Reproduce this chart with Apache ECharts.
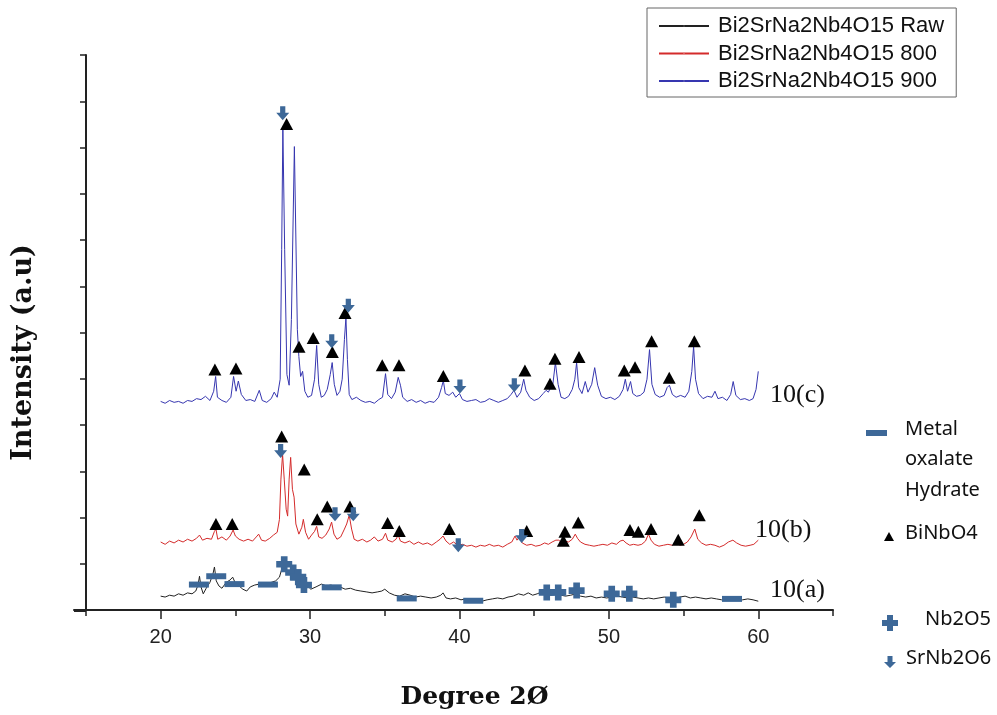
<!DOCTYPE html>
<html>
<head>
<meta charset="utf-8">
<script src="https://cdn.jsdelivr.net/npm/echarts@6/dist/echarts.min.js"></script>
<style>html,body{margin:0;padding:0;background:#fff}#c{width:997px;height:715px}</style>
</head>
<body>
<div id="c"></div>
<script>
// ---- tick labels ----
const majorTicks = [20, 30, 40, 50, 60];
const minorTicks = [15, 25, 35, 45, 55, 65];
const seriesNames = ['Bi2SrNa2Nb4O15 Raw', 'Bi2SrNa2Nb4O15 800', 'Bi2SrNa2Nb4O15 900'];
const curveLabels = ['10(a)', '10(b)', '10(c)'];

// ---- pattern 10(a): raw ----
const rawData = [
[20.0,30],[20.3,28],[20.6,32],[20.9,30],[21.2,35],[21.5,32],[21.8,37],[22.1,35],[22.35,41],[22.5,54],[22.6,73],[22.7,50],[22.85,35],
[23.05,47],[23.3,60],[23.5,78],[23.6,93],[23.72,63],[23.9,52],[24.1,47],[24.4,60],[24.65,65],[24.82,71],[25.0,58],[25.25,52],[25.5,45],
[25.76,41],[26.0,50],[26.3,54],[26.6,56],[26.9,54],[27.15,58],[27.43,60],[27.7,63],[27.95,71],[28.1,88],[28.25,101],[28.4,84],[28.55,76],
[28.72,82],[28.9,71],[29.15,67],[29.45,60],[29.77,54],[30.05,45],[30.4,50],[30.77,56],[31.1,52],[31.4,54],[31.7,50],[32.0,50],[32.35,45],
[32.7,47],[33.05,43],[33.4,41],[33.8,39],[34.15,37],[34.5,39],[34.8,41],[35.0,45],[35.3,37],[35.65,32],[36.0,30],[36.35,35],[36.7,32],
[37.05,28],[37.4,30],[37.75,28],[38.1,26],[38.45,28],[38.75,32],[38.9,37],[39.1,26],[39.4,24],[39.75,26],[40.1,22],[40.45,24],[40.8,19],
[41.15,22],[41.5,19],[41.85,22],[42.2,24],[42.55,26],[42.9,24],[43.25,28],[43.6,30],[43.95,35],[44.3,32],[44.6,37],[44.9,32],[45.2,35],
[45.5,39],[45.8,35],[46.1,32],[46.45,35],[46.8,32],[47.1,30],[47.45,32],[47.8,35],[48.1,30],[48.45,28],[48.8,30],[49.15,26],[49.5,28],
[49.85,26],[50.2,28],[50.55,30],[50.9,28],[51.25,26],[51.6,28],[51.95,26],[52.3,24],[52.65,26],[53.0,24],[53.35,26],[53.7,28],[54.05,26],
[54.4,24],[54.75,28],[55.1,30],[55.45,26],[55.8,28],[56.15,26],[56.5,24],[56.85,26],[57.2,24],[57.55,22],[57.9,24],[58.25,22],[58.6,24],
[58.95,22],[59.3,24],[59.65,22],[60.0,19]
];

// ---- pattern 10(b): 800 ----
const data800 = [
[20.0,147],[20.3,142],[20.6,149],[20.9,145],[21.2,151],[21.5,147],[21.8,153],[22.1,149],[22.4,155],[22.6,162],[22.8,151],[23.1,155],
[23.4,153],[23.6,170],[23.7,175],[23.82,153],[24.1,158],[24.4,151],[24.65,160],[24.85,173],[25.0,160],[25.25,153],[25.55,149],[25.85,153],
[26.15,149],[26.4,158],[26.56,164],[26.75,151],[27.0,149],[27.3,155],[27.55,162],[27.8,168],[27.95,196],[28.05,283],[28.16,337],[28.27,283],
[28.4,218],[28.5,203],[28.6,283],[28.7,330],[28.82,261],[28.93,244],[29.05,186],[29.25,164],[29.45,179],[29.55,196],[29.7,168],[29.9,153],
[30.1,162],[30.3,170],[30.44,181],[30.58,158],[30.8,155],[31.05,162],[31.28,175],[31.44,190],[31.6,164],[31.8,153],[32.05,158],[32.3,175],
[32.45,186],[32.62,205],[32.78,175],[32.95,153],[33.2,149],[33.5,153],[33.8,147],[34.05,151],[34.3,158],[34.55,149],[34.85,153],[35.05,166],
[35.2,151],[35.5,147],[35.75,153],[35.9,162],[36.05,149],[36.35,145],[36.65,149],[36.95,142],[37.25,147],[37.55,142],[37.85,145],[38.15,140],
[38.45,147],[38.7,153],[38.9,160],[39.1,149],[39.35,142],[39.6,147],[39.9,140],[40.2,142],[40.5,138],[40.8,140],[41.1,136],[41.4,140],
[41.7,138],[42.0,142],[42.3,138],[42.6,140],[42.9,136],[43.2,142],[43.5,147],[43.72,160],[43.85,151],[44.0,158],[44.2,145],[44.5,140],
[44.8,142],[45.1,138],[45.4,140],[45.7,145],[45.95,142],[46.2,147],[46.45,151],[46.65,151],[46.85,145],[47.05,149],[47.3,147],[47.55,153],
[47.75,164],[47.9,155],[48.1,147],[48.4,142],[48.7,140],[49.0,138],[49.3,140],[49.6,142],[49.9,140],[50.2,145],[50.5,142],[50.75,149],
[50.95,151],[51.15,145],[51.4,140],[51.65,142],[51.95,140],[52.2,142],[52.45,149],[52.65,164],[52.82,151],[53.05,142],[53.35,138],[53.65,140],
[53.95,142],[54.25,140],[54.5,147],[54.75,140],[55.0,142],[55.25,147],[55.5,158],[55.75,175],[55.95,153],[56.2,145],[56.5,140],[56.8,142],
[57.1,140],[57.4,136],[57.7,140],[58.0,147],[58.3,151],[58.55,145],[58.85,140],[59.15,138],[59.45,140],[59.7,142],[60.0,151]
];

// ---- pattern 10(c): 900 ----
const data900 = [
[20.0,451],[20.3,447],[20.6,453],[20.9,449],[21.2,451],[21.5,447],[21.8,453],[22.1,451],[22.4,457],[22.7,455],[23.0,462],[23.3,453],
[23.55,473],[23.68,505],[23.8,460],[24.1,453],[24.4,449],[24.7,460],[24.88,505],[25.05,473],[25.2,495],[25.4,466],[25.7,453],[26.0,455],
[26.3,451],[26.6,475],[26.8,453],[27.1,449],[27.4,457],[27.6,471],[27.8,460],[28.0,499],[28.1,779],[28.18,1042],[28.3,779],[28.45,509],
[28.6,486],[28.75,628],[28.95,1002],[29.15,606],[29.25,548],[29.37,505],[29.5,516],[29.65,473],[29.85,460],[30.1,464],[30.3,499],[30.44,572],
[30.58,488],[30.75,460],[30.95,464],[31.15,477],[31.35,509],[31.48,535],[31.62,488],[31.8,464],[32.0,473],[32.15,499],[32.3,585],[32.4,632],
[32.5,542],[32.62,466],[32.8,455],[33.1,460],[33.4,453],[33.7,449],[34.0,451],[34.3,447],[34.6,455],[34.85,460],[35.05,511],[35.2,466],
[35.45,457],[35.7,471],[35.9,503],[36.05,486],[36.2,460],[36.5,451],[36.8,455],[37.1,449],[37.4,453],[37.7,447],[38.0,451],[38.3,449],
[38.6,460],[38.8,481],[38.92,496],[39.05,468],[39.3,464],[39.55,471],[39.75,460],[40.0,468],[40.2,455],[40.5,451],[40.8,453],[41.1,455],
[41.4,449],[41.7,451],[42.0,457],[42.3,453],[42.6,449],[42.9,453],[43.2,457],[43.45,466],[43.65,475],[43.85,460],[44.1,471],[44.3,499],
[44.45,475],[44.7,460],[45.0,453],[45.3,457],[45.6,468],[45.8,475],[45.95,471],[46.1,481],[46.25,488],[46.42,535],[46.6,488],[46.8,460],
[47.05,457],[47.3,462],[47.55,477],[47.72,499],[47.84,535],[47.98,481],[48.2,468],[48.42,494],[48.6,471],[48.85,488],[49.05,524],[49.25,486],
[49.5,462],[49.8,457],[50.1,460],[50.4,455],[50.7,462],[50.95,477],[51.1,499],[51.25,473],[51.45,494],[51.6,468],[51.85,462],[52.1,464],
[52.35,471],[52.55,499],[52.72,563],[52.88,488],[53.1,466],[53.4,460],[53.7,464],[53.9,481],[54.05,486],[54.25,466],[54.5,460],[54.8,464],
[55.1,460],[55.35,473],[55.55,516],[55.67,570],[55.8,499],[56.0,468],[56.3,457],[56.6,462],[56.9,460],[57.1,473],[57.3,457],[57.6,460],
[57.9,453],[58.15,466],[58.32,494],[58.5,464],[58.8,455],[59.1,457],[59.4,453],[59.65,457],[59.85,477],[60.0,516]
];

// ---- phase markers ----
const biNbO4 = [
[23.63,520],[25.04,522],[28.43,1051],[29.26,569],[30.21,588],[31.49,558],[32.34,642],[34.83,529],[35.95,529],[38.92,506],
[44.38,518],[46.06,489],[46.39,543],[48.0,547],[51.03,518],[51.75,525],[52.86,581],[54.04,502],[55.72,581],
[23.70,186],[24.79,186],[28.10,375],[29.61,304],[30.48,196],[31.15,224],[32.67,224],[35.19,188],[35.97,171],[39.32,175],
[44.50,171],[46.95,150],[47.06,169],[47.95,189],[51.41,173],[51.97,169],[52.82,175],[54.64,152],[56.05,205]
];
const srNb2O6 = [
[28.17,1074],[31.45,581],[32.56,658],[40.03,483],[43.67,486],
[28.03,344],[31.67,207],[32.89,207],[39.92,140],[44.16,160]
];
const nb2o5 = [[28.27,99],[28.87,81],[29.21,71],[29.59,54],[45.84,38],[46.61,38],[47.84,42],[50.19,35],[51.37,35],[54.31,22]];
const oxalate = [[22.56,55],[23.72,73],[24.94,56],[27.18,55],[31.45,49],[36.47,25],[40.92,20],[58.24,24]];

const markerBlue = '#3d6898';
const crossPath = 'path://M3.5,0H8.5V3.5H12V8.5H8.5V12H3.5V8.5H0V3.5H3.5Z';
const arrowPath = 'path://M3,0H7V5H10L5,11L0,5H3Z';

const chart = echarts.init(document.getElementById('c'), null, {renderer: 'canvas'});
const axisColor = '#222';

function lineSeries(name, data, color) {
  return {
    name, type: 'line', data, symbol: 'none', smooth: false,
    lineStyle: {color, width: 1}, itemStyle: {color}, z: 2, animation: false
  };
}
function markerSeries(name, data, symbol, size, color) {
  return {
    name, type: 'scatter', data, symbol, symbolSize: size,
    itemStyle: {color, opacity: 1}, z: 5, silent: true, animation: false
  };
}

const rightKeys = [
  {shape: 'dash', text: 'Metal', y: 433, x: 905},
  {shape: null, text: 'oxalate', y: 463, x: 905},
  {shape: null, text: 'Hydrate', y: 494, x: 905},
  {shape: 'tri', text: 'BiNbO4', y: 537, x: 905},
  {shape: 'cross', text: 'Nb2O5', y: 623, x: 925},
  {shape: 'arrow', text: 'SrNb2O6', y: 662, x: 906}
];
const graphics = [];
rightKeys.forEach(k => {
  graphics.push({type: 'text', left: k.x, top: k.y - 14, style: {text: k.text, font: '20px "Noto Sans"', fill: '#111'}});
  if (k.shape === 'dash') graphics.push({type: 'rect', shape: {x: 866, y: k.y - 3, width: 21, height: 6}, style: {fill: markerBlue}});
  if (k.shape === 'tri') graphics.push({type: 'polygon', shape: {points: [[889, k.y - 5], [894, k.y + 4], [884, k.y + 4]]}, style: {fill: '#000'}});
  if (k.shape === 'cross') graphics.push({type: 'polygon', shape: {points: [[887, k.y - 8], [893, k.y - 8], [893, k.y - 3], [898, k.y - 3], [898, k.y + 3], [893, k.y + 3], [893, k.y + 8], [887, k.y + 8], [887, k.y + 3], [882, k.y + 3], [882, k.y - 3], [887, k.y - 3]]}, style: {fill: markerBlue}});
  if (k.shape === 'arrow') graphics.push({type: 'polygon', shape: {points: [[887.5, k.y - 6], [892.5, k.y - 6], [892.5, k.y], [896, k.y], [890, k.y + 6], [884, k.y], [887.5, k.y]]}, style: {fill: markerBlue}});
});
const labelPos = [{x: 770, y: 592}, {x: 755, y: 532}, {x: 770, y: 397}];
curveLabels.forEach((t, i) => {
  graphics.push({type: 'text', left: labelPos[i].x, top: labelPos[i].y - 15, style: {text: t, font: '26px "Liberation Serif"', fill: '#111'}});
});
// short left extension of the x axis line past the y axis
graphics.push({type: 'line', shape: {x1: 74, y1: 611, x2: 86, y2: 611}, style: {stroke: axisColor, lineWidth: 2}});

chart.setOption({
  backgroundColor: '#fff',
  animation: false,
  grid: {left: 74, top: 55, width: 759, height: 556, containLabel: false},
  legend: {
    data: seriesNames.map((n, i) => ({name: n, itemStyle: {color: ['#555', '#e07070', '#7070b8'][i]}})),
    orient: 'vertical', left: 647, top: 8,
    itemWidth: 50, itemHeight: 2, itemGap: 1.5,
    padding: [5, 12, 3, 11],
    borderColor: '#666', borderWidth: 1, borderRadius: 0,
    textStyle: {fontFamily: 'Liberation Sans', fontSize: 22, color: '#111', lineHeight: 26, padding: [0, 0, 0, 4]},
    selectedMode: false
  },
  xAxis: [{
    type: 'value', min: 14.2, max: 65, position: 'bottom',
    axisLine: {show: true, lineStyle: {color: axisColor, width: 2}},
    axisTick: {show: true, customValues: majorTicks, length: 9, lineStyle: {color: axisColor, width: 1.5}},
    axisLabel: {show: true, customValues: majorTicks, fontFamily: 'Liberation Sans', fontSize: 20, color: '#222', margin: 17},
    splitLine: {show: false},
    name: 'Degree 2Ø', nameLocation: 'middle', nameGap: 75,
    nameTextStyle: {fontFamily: 'DejaVu Serif', fontWeight: 'bold', fontSize: 25, color: '#111', padding: [0, 0, 0, 42]}
  }, {
    type: 'value', min: 14.2, max: 65, position: 'bottom', gridIndex: 0,
    axisLine: {show: false},
    axisTick: {show: true, customValues: minorTicks, length: 6, lineStyle: {color: axisColor, width: 1.5}},
    axisLabel: {show: false},
    splitLine: {show: false}
  }],
  yAxis: {
    type: 'value', min: 0, max: 1200, interval: 100, offset: -12,
    axisLine: {show: true, lineStyle: {color: axisColor, width: 2}},
    axisTick: {show: true, inside: false, length: 6, lineStyle: {color: axisColor, width: 1.5}},
    axisLabel: {show: false},
    splitLine: {show: false},
    name: 'Intensity (a.u)', nameLocation: 'middle', nameRotate: 90, nameGap: 49,
    nameTextStyle: {fontFamily: 'DejaVu Serif', fontWeight: 'bold', fontSize: 27, color: '#111', padding: [0, 40, 0, 0]}
  },
  series: [
    lineSeries(seriesNames[0], rawData, '#222'),
    lineSeries(seriesNames[1], data800, '#d42b2b'),
    lineSeries(seriesNames[2], data900, '#3636b0'),
    markerSeries('Metal oxalate Hydrate', oxalate, 'rect', [20, 6], markerBlue),
    markerSeries('Nb2O5', nb2o5, crossPath, [16, 16], markerBlue),
    markerSeries('BiNbO4', biNbO4, 'triangle', [13, 12], '#000'),
    markerSeries('SrNb2O6', srNb2O6, arrowPath, [13, 14], markerBlue)
  ],
  graphic: graphics
});
</script>
</body>
</html>
